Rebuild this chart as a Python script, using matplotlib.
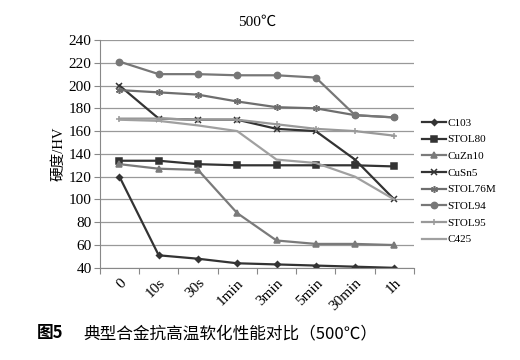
import matplotlib.pyplot as plt
import numpy as np

plt.rcParams['font.family'] = ['Liberation Serif', 'Noto Sans CJK SC']

times = ['0', '10s', '30s', '1min', '3min', '5min', '30min', '1h']

c103 = [120, 51, 48, 44, 43, 42, 41, 40]
stol80 = [134, 134, 131, 130, 130, 130, 130, 129]
cuzn10 = [131, 127, 126, 88, 64, 61, 61, 60]
cusn5 = [200, 171, 170, 170, 162, 160, 135, 100]
stol76m = [196, 194, 192, 186, 181, 180, 174, 172]
stol94 = [221, 210, 210, 209, 209, 207, 174, 172]
stol95 = [171, 171, 170, 170, 166, 162, 160, 156]
c425 = [170, 169, 165, 160, 135, 132, 120, 100]

names = ['C103', 'STOL80', 'CuZn10', 'CuSn5', 'STOL76M', 'STOL94', 'STOL95', 'C425']
series = [c103, stol80, cuzn10, cusn5, stol76m, stol94, stol95, c425]
colors = ['#333333', '#333333', '#7a7a7a', '#333333', '#6e6e6e', '#777777', '#999999', '#a0a0a0']
markers = ['D', 's', '^', 'x', (6, 2, 0), 'o', '+', None]
msizes = [3, 4.5, 4.5, 4.5, 5, 4.5, 5, 0]

fig = plt.figure(figsize=(5.2, 3.6), dpi=100)
ax = fig.add_axes([0.192, 0.256, 0.604, 0.633])

x = np.arange(len(times))
for name, vals, c, m, ms in zip(names, series, colors, markers, msizes):
    ax.plot(x, vals, color=c, marker=m, markersize=ms, linewidth=1.6,
            markeredgewidth=1.1, label=name)

ax.set_xlim(-0.5, len(times) - 0.5)
ax.set_ylim(40, 240)
ax.set_yticks(range(40, 241, 20))
ax.yaxis.grid(True, color='#999999', linewidth=0.9)
ax.set_axisbelow(True)

# ticks between categories, labels at centres
ax.set_xticks(np.arange(len(times) + 1) - 0.5)
ax.set_xticklabels([])
ax.set_xticks(x, minor=True)
ax.set_xticklabels(times, minor=True, rotation=45, ha='right',
                   rotation_mode='anchor', fontsize=11)
ax.tick_params(axis='x', which='minor', length=0, pad=6)
ax.tick_params(axis='x', which='major', length=4, color='#888888')
ax.tick_params(axis='y', length=4, color='#888888', labelsize=11, pad=2)

for s in ['top', 'right']:
    ax.spines[s].set_visible(False)
for s in ['left', 'bottom']:
    ax.spines[s].set_color('#888888')

ax.set_ylabel('硬度/HV', fontsize=10.5, labelpad=2)
ax.set_title('500℃', fontsize=11, pad=10)

ax.legend(loc='center left', bbox_to_anchor=(1.0, 0.38), frameon=False,
          fontsize=8, handlelength=2.2, labelspacing=0.62,
          handletextpad=0.1, borderaxespad=0.3)

fig.text(0.071, 0.06, '图5', fontsize=12, fontweight='bold',
         family=['Noto Sans CJK SC'])
fig.text(0.16, 0.06, '典型合金抗高温软化性能对比（500℃）', fontsize=12,
         family=['Noto Sans CJK SC'])

fig.savefig('out.png', dpi=100)
